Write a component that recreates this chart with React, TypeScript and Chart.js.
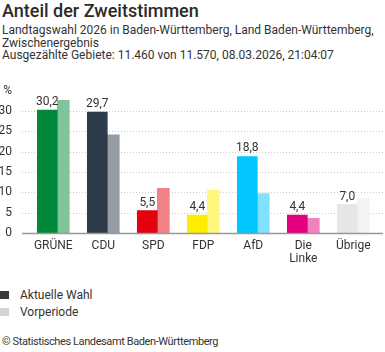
import React, { useEffect, useRef } from "react";
import { Chart, registerables } from "chart.js";

Chart.register(...registerables);

const categories: (string | string[])[] = ["GRÜNE", "CDU", "SPD", "FDP", "AfD", ["Die", "Linke"], "Übrige"];
const currentValues = [30.2, 29.7, 5.5, 4.4, 18.8, 4.4, 7.0];
const previousValues = [32.6, 24.1, 11.0, 10.5, 9.7, 3.6, 8.5];
const currentColors = ["#00893a", "#2e3b4a", "#e3000f", "#ffed00", "#00c5ff", "#e3007c", "#e6e6e6"];
const previousColors = ["#80c49c", "#969da4", "#f18087", "#fff680", "#80e2ff", "#f180bd", "#f3f3f3"];
const yTicks = [0, 5, 10, 15, 20, 25, 30, 35];

const FONT = "Roboto, 'Noto Sans', sans-serif";

const gridPlugin = {
  id: "customGrid",
  beforeDatasetsDraw(chart: any) {
    const ctx = chart.ctx;
    const y = chart.scales.y;
    ctx.save();
    ctx.strokeStyle = "#cccccc";
    ctx.lineWidth = 1;
    ctx.setLineDash([1, 2]);
    yTicks.forEach((t) => {
      if (t === 0 || t === 35) return;
      const py = Math.round(y.getPixelForValue(t)) + 0.5;
      ctx.beginPath();
      ctx.moveTo(22, py);
      ctx.lineTo(383, py);
      ctx.stroke();
    });
    ctx.restore();
  },
  afterDatasetsDraw(chart: any) {
    const ctx = chart.ctx;
    const y = chart.scales.y;
    ctx.save();
    ctx.strokeStyle = "#999999";
    ctx.lineWidth = 1.5;
    const py = y.getPixelForValue(0) + 0.5;
    ctx.beginPath();
    ctx.moveTo(22, py);
    ctx.lineTo(383, py);
    ctx.stroke();
    // value labels for current results
    const meta = chart.getDatasetMeta(0);
    ctx.fillStyle = "#333333";
    ctx.font = `12px ${FONT}`;
    ctx.textAlign = "center";
    ctx.textBaseline = "alphabetic";
    meta.data.forEach((el: any, i: number) => {
      const v = currentValues[i];
      ctx.fillText(v.toFixed(1).replace(".", ","), el.x, el.y - 5);
    });
    ctx.restore();
  },
};

function BarChart() {
  const ref = useRef<HTMLCanvasElement | null>(null);
  useEffect(() => {
    if (!ref.current) return;
    const chart = new Chart(ref.current, {
      type: "bar",
      data: {
        labels: categories as any,
        datasets: [
          {
            label: "Aktuelle Wahl",
            data: currentValues,
            backgroundColor: currentColors,
            barThickness: 20,
          },
          {
            label: "Vorperiode",
            data: previousValues,
            backgroundColor: previousColors,
            barThickness: 12,
          },
        ],
      },
      options: {
        animation: false,
        responsive: false,
        maintainAspectRatio: false,
        layout: { padding: { left: 0, right: 2.7, top: 0, bottom: 0 } },
        plugins: {
          legend: { display: false },
          tooltip: { enabled: false },
          title: { display: false },
        },
        scales: {
          x: {
            grid: { display: false, drawTicks: false },
            border: { display: false },
            ticks: {
              color: "#333333",
              font: { family: FONT, size: 12, lineHeight: 1.05 },
              padding: 7,
              labelOffset: -4,
              maxRotation: 0,
              autoSkip: false,
            },
            afterFit: (scale: any) => {
              scale.height = 42;
            },
          },
          y: {
            min: 0,
            max: 35,
            grid: { display: false, drawTicks: false },
            border: { display: false },
            ticks: {
              stepSize: 5,
              color: "#333333",
              font: { family: FONT, size: 12 },
              padding: 20.3,
              callback: (v: any) => (v === 35 ? "%" : String(v)),
            },
            afterFit: (scale: any) => {
              scale.width = 32.3;
            },
          },
        },
      },
      plugins: [gridPlugin],
    });
    return () => chart.destroy();
  }, []);
  return (
    <canvas
      ref={ref}
      width={385}
      height={212}
      style={{ position: "absolute", left: 0, top: 63, width: 385, height: 212 }}
    />
  );
}

export default function App() {
  return (
    <div
      style={{
        position: "absolute",
        left: 0,
        top: 0,
        width: 385,
        height: 352,
        background: "#ffffff",
        fontFamily: FONT,
        color: "#333333",
        overflow: "hidden",
      }}
    >
      <div style={{ position: "absolute", left: 2, top: 0, fontSize: 18, lineHeight: "21px", fontWeight: 500, color: "#2a2a2a", whiteSpace: "nowrap" }}>
        Anteil der Zweitstimmen
      </div>
      <div style={{ position: "absolute", left: 2, top: 24.3, fontSize: 12, lineHeight: "12.5px", whiteSpace: "nowrap" }}>
        <div>Landtagswahl 2026 in Baden-Württemberg, Land Baden-Württemberg,</div>
        <div>Zwischenergebnis</div>
        <div>Ausgezählte Gebiete: 11.460 von 11.570, 08.03.2026, 21:04:07</div>
      </div>
      <BarChart />
      <div style={{ position: "absolute", left: 0, top: 287, fontSize: 12, lineHeight: "16.5px" }}>
        <div style={{ display: "flex", alignItems: "center" }}>
          <span style={{ display: "inline-block", width: 9, height: 8, background: "#3a3a3a", marginRight: 11 }} />
          <span>Aktuelle Wahl</span>
        </div>
        <div style={{ display: "flex", alignItems: "center" }}>
          <span style={{ display: "inline-block", width: 9, height: 8, background: "#d4d4d4", marginRight: 11 }} />
          <span>Vorperiode</span>
        </div>
      </div>
      <div style={{ position: "absolute", left: 2, top: 334.5, fontSize: 11, letterSpacing: "-0.4px", lineHeight: "14px", whiteSpace: "nowrap" }}>
        © Statistisches Landesamt Baden-Württemberg
      </div>
    </div>
  );
}
